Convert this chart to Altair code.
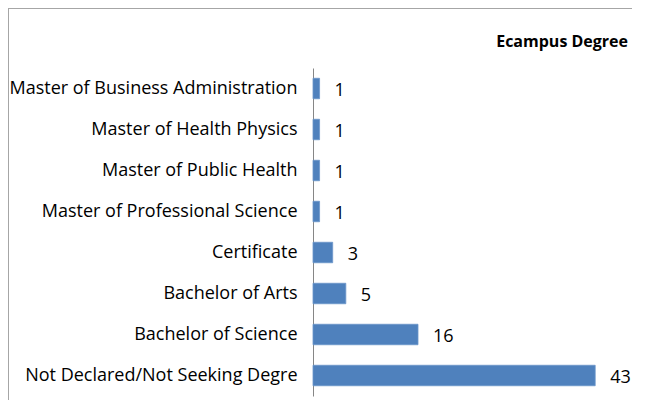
import altair as alt
import pandas as pd

categories = [
    "Master of Business Administration",
    "Master of Health Physics",
    "Master of Public Health",
    "Master of Professional Science",
    "Certificate",
    "Bachelor of Arts",
    "Bachelor of Science",
    "Not Declared/Not Seeking Degre",
]
counts = [1, 1, 1, 1, 3, 5, 16, 43]
chart_title = "Ecampus Degree"

df = pd.DataFrame({"degree": categories, "count": counts})

FONT = "Open Sans"

y_enc = alt.Y(
    "degree:N",
    sort=categories,
    title=None,
    scale=alt.Scale(paddingInner=0.5, paddingOuter=0.25),
    axis=alt.Axis(
        domainColor="#868686",
        ticks=False,
        labelPadding=16,
        labelLimit=400,
        labelFont=FONT,
        labelFontSize=18,
        labelColor="#000000",
    ),
)
x_enc = alt.X("count:Q", scale=alt.Scale(domain=[0, 48]), axis=None)

one = pd.DataFrame({"a": [0]})
top_border = alt.Chart(one).mark_rule(color="#a6a6a6", strokeWidth=1).encode(
    x=alt.value(-305), x2=alt.value(335), y=alt.value(-59.5)
)
left_border = alt.Chart(one).mark_rule(color="#a6a6a6", strokeWidth=1).encode(
    x=alt.value(-304.5), y=alt.value(-60), y2=alt.value(340)
)

title = alt.Chart(pd.DataFrame({"t": [chart_title]})).mark_text(
    align="right", baseline="middle", font=FONT, fontSize=16, fontWeight="bold",
    color="#000000"
).encode(x=alt.value(315), y=alt.value(-26), text="t:N")

bars = alt.Chart(df).mark_bar(
    color="#4F81BD", stroke="#6b95c9", strokeWidth=0.8
).encode(x=x_enc, y=y_enc)

labels = alt.Chart(df).mark_text(
    align="left", baseline="middle", dx=15, dy=2, font=FONT, fontSize=18, color="#000000"
).encode(x=x_enc, y=y_enc, text="count:Q")

chart = (
    alt.layer(top_border, left_border, title, bars, labels)
    .properties(
        width=315,
        height=328,
        autosize=alt.AutoSizeParams(type="none"),
        padding={"left": 305, "top": 60, "right": 4, "bottom": 4},
    )
    .configure_view(stroke=None)
)

chart.save("out.html", embed_options={"renderer": "svg", "actions": False})
